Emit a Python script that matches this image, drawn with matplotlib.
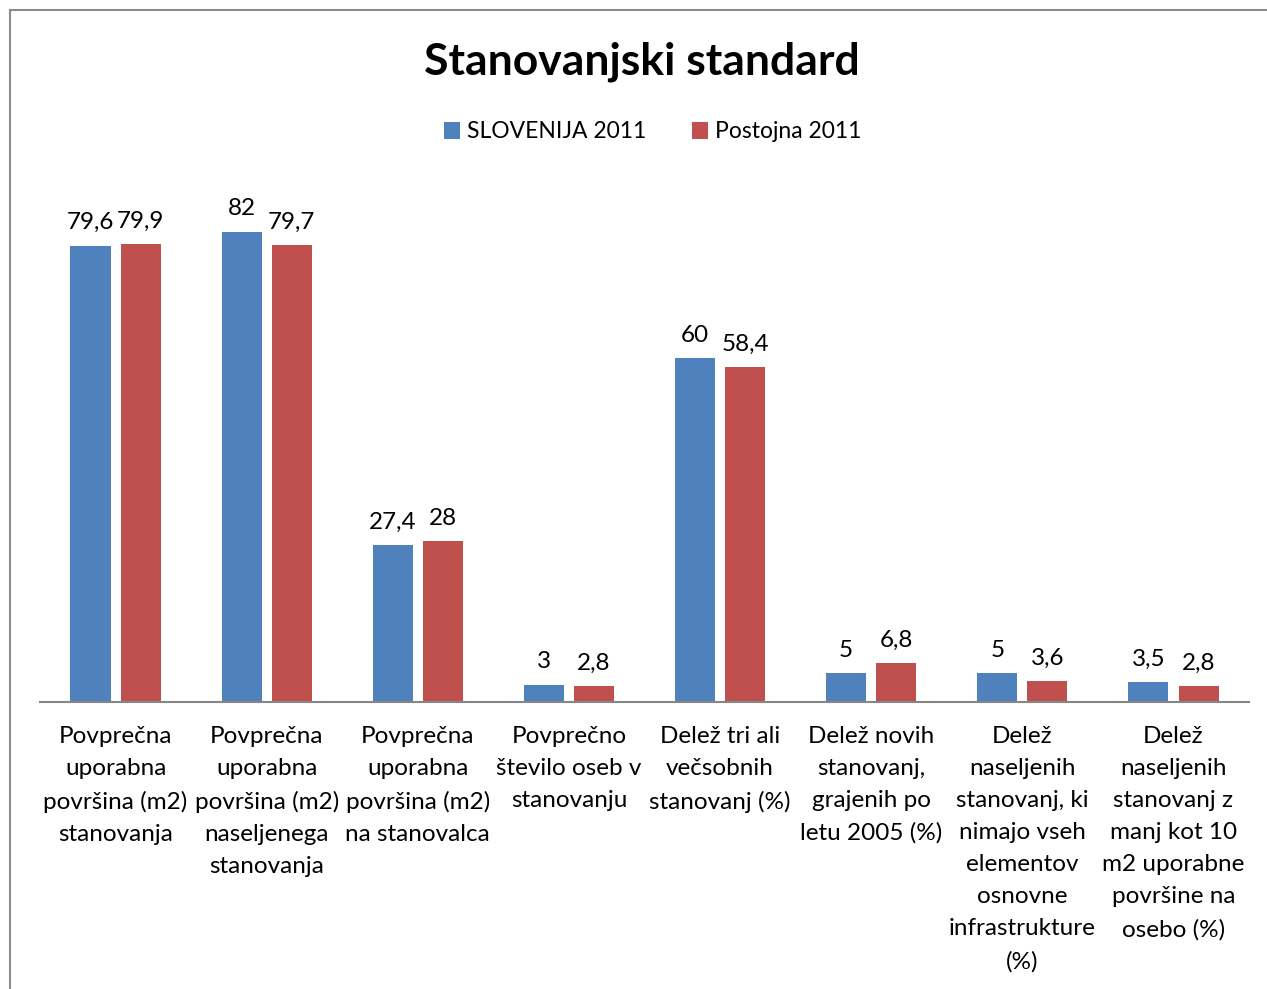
import matplotlib.pyplot as plt
import matplotlib.transforms as mtransforms
from matplotlib.lines import Line2D
import numpy as np

# podatki
kategorije = [
    "Povprečna\nuporabna\npovršina (m2)\nstanovanja",
    "Povprečna\nuporabna\npovršina (m2)\nnaseljenega\nstanovanja",
    "Povprečna\nuporabna\npovršina (m2)\nna stanovalca",
    "Povprečno\nštevilo oseb v\nstanovanju",
    "Delež tri ali\nvečsobnih\nstanovanj (%)",
    "Delež novih\nstanovanj,\ngrajenih po\nletu 2005 (%)",
    "Delež\nnaseljenih\nstanovanj, ki\nnimajo vseh\nelementov\nosnovne\ninfrastrukture\n(%)",
    "Delež\nnaseljenih\nstanovanj z\nmanj kot 10\nm2 uporabne\npovršine na\nosebo (%)",
]
slovenija = [79.6, 82, 27.4, 3, 60, 5, 5, 3.5]
postojna = [79.9, 79.7, 28, 2.8, 58.4, 6.8, 3.6, 2.8]
serije = ["SLOVENIJA 2011", "Postojna 2011"]

modra = "#4F81BD"
rdeca = "#C0504D"
plt.rcParams['font.family'] = ['Lato', 'DejaVu Sans']

fig = plt.figure(figsize=(12.67, 9.89), dpi=100)
ax = fig.add_axes([0.0316, 0.2902, 0.9542, 0.5217])

x = np.arange(len(kategorije))
w = 0.265
b1 = ax.bar(x - 0.166, slovenija, w, color=modra, label=serije[0])
b2 = ax.bar(x + 0.166, postojna, w, color=rdeca, label=serije[1])

def fmt(v):
    s = f"{v:g}"
    return s.replace(".", ",")

for bars, vals in ((b1, slovenija), (b2, postojna)):
    for r, v in zip(bars, vals):
        ax.annotate(fmt(v), (r.get_x() + r.get_width() / 2, r.get_height()),
                    xytext=(0, 9), textcoords="offset points",
                    ha="center", va="bottom", fontsize=17.5)

ax.set_xlim(-0.5, len(kategorije) - 0.5)
ax.set_ylim(0, 90)
ax.set_yticks([])
ax.set_xticks([])
for s in ["top", "right", "left"]:
    ax.spines[s].set_visible(False)
ax.spines["bottom"].set_color("#868686")
ax.spines["bottom"].set_linewidth(1.5)

trans = mtransforms.blended_transform_factory(ax.transData, fig.transFigure)
for i, k in enumerate(kategorije):
    ax.text(i, 1 - 726 / 989, k, transform=trans, ha="center", va="top",
            fontsize=17.5, linespacing=1.65)

fig.text(0.507, 1 - 62 / 989, "Stanovanjski standard", ha="center", va="center",
         fontsize=32, fontweight="bold")

fig.legend(handles=[b1, b2], loc="center", bbox_to_anchor=(0.515, 1 - 132 / 989),
           ncol=2, frameon=False, fontsize=16.5, handlelength=0.7, handleheight=0.7,
           handletextpad=0.3, columnspacing=2.0)

# okvir grafikona
fig.add_artist(Line2D([10 / 1267, 1], [1 - 10 / 989, 1 - 10 / 989],
                      transform=fig.transFigure, color="#8c8c8c", lw=1.5))
fig.add_artist(Line2D([10 / 1267, 10 / 1267], [0, 1 - 10 / 989],
                      transform=fig.transFigure, color="#8c8c8c", lw=1.5))

fig.savefig("out.png", dpi=100, facecolor="white")
